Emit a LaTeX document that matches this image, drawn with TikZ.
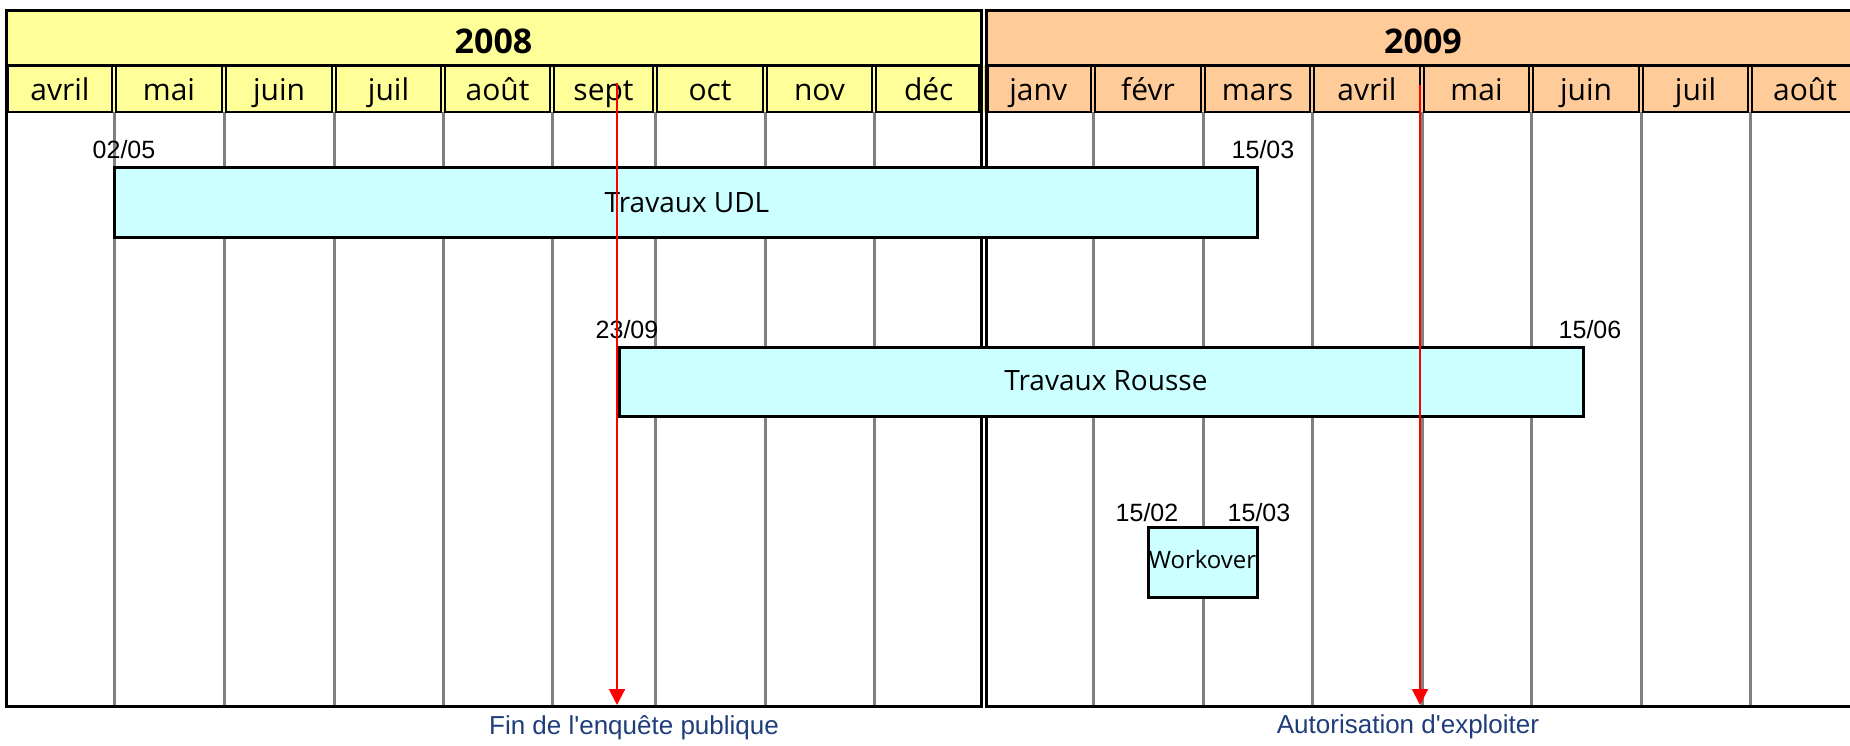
\documentclass[tikz,border=0pt]{standalone}
\usepackage{fontspec}
\setmainfont{Open Sans}
\newfontfamily\datefont[Ligatures=TeXOff]{Liberation Sans}
\usetikzlibrary{arrows.meta,positioning}

\definecolor{annee08}{HTML}{FFFF99}
\definecolor{annee09}{HTML}{FFCC99}
\definecolor{tache}{HTML}{CCFFFF}
\definecolor{grille}{HTML}{808080}
\definecolor{jalon}{HTML}{FF0000}
\definecolor{legende}{HTML}{1F3D7A}

\tikzset{
  yearbox/.style={draw=black, line width=3pt},
  monthcell/.style={draw=black, line width=2.5pt},
  gridline/.style={draw=grille, line width=3pt},
  yearlbl/.style={font=\bfseries\fontsize{34}{40}\selectfont, inner sep=0pt, anchor=base},
  monthlbl/.style={font=\fontsize{30}{36}\selectfont, inner sep=0pt, anchor=base},
  taskbar/.style={draw=black, fill=tache, line width=3pt, inner sep=0pt},
  tasklbl/.style={font=\fontsize{28}{32}\selectfont, inner sep=0pt, anchor=base},
  datelbl/.style={font=\datefont\fontsize{25}{28}\selectfont, inner sep=0pt, anchor=base},
  milestone/.style={draw=jalon, line width=2pt, -{Triangle[width=16pt,length=16pt]}},
  milestonelbl/.style={font=\datefont\fontsize{26}{30}\selectfont, text=legende, inner sep=0pt, anchor=base},
}

\begin{document}
\begin{tikzpicture}[x=1pt,y=-1pt]
\useasboundingbox (0,0) rectangle (1850,745);
\clip (0,0) rectangle (1850,745);

% Year rows
\fill[annee08] (6,10) rectangle (981,65);
\fill[annee09] (986,10) rectangle (1860,65);
\node[yearlbl] (an08) at (493.5,53.5) {2008};
\node[yearlbl] (an09) at (1423,53.5) {2009};

% Month cells, 2008
\foreach \xa/\xb/\m [count=\i] in {6/114/avril, 114/224/mai, 224/334/juin, 334/443/juil, 443/552/août, 552/655/sept, 655/765/oct, 765/874/nov, 874/983.5/déc} {
    \fill[annee08] (\xa,65) rectangle (\xb,112);
    \node[monthlbl] (mois08-\i) at ({(\xa+\xb)/2},100) {\m};
}

% Month cells, 2009
\foreach \xa/\xb/\m [count=\i] in {983.5/1093/janv, 1093/1203/févr, 1203/1312/mars, 1312/1422/avril, 1422/1531/mai, 1531/1641/juin, 1641/1750/juil, 1750/1860/août} {
    \fill[annee09] (\xa,65) rectangle (\xb,112);
    \node[monthlbl] (mois09-\i) at ({(\xa+\xb)/2},100) {\m};
}

% Grey lines at each month in the body
\foreach \x in {114,224,334,443,552,655,765,874,1093,1203,1312,1422,1531,1641,1750}
    \draw[gridline] (\x,112) -- (\x,706);

% Cell borders (double lines between months)
\foreach \xa/\xb in {6/114, 114/224, 224/334, 334/443, 443/552, 552/655, 655/765, 765/874, 874/981}
    \draw[monthcell] (\xa+2,65) rectangle (\xb-2,112);
\foreach \xa/\xb in {986/1093, 1093/1203, 1203/1312, 1312/1422, 1422/1531, 1531/1641, 1641/1750, 1750/1860}
    \draw[monthcell] (\xa+2,65) rectangle (\xb-2,112);

% Year frames
\draw[yearbox] (6,10) rectangle (981,706);
\draw[yearbox] (986,10) rectangle (1860,706);
\draw[yearbox] (6,65) -- (981,65);
\draw[yearbox] (986,65) -- (1860,65);

% Tasks
\node[taskbar, minimum width=1143pt, minimum height=70pt] (udl) at (685.5,202) {};
\node[taskbar, minimum width=964pt, minimum height=69pt] (rousse) at (1101,381.5) {};
\node[taskbar, minimum width=109pt, minimum height=70pt] (wo) at (1202.5,562) {};
\node[tasklbl] (udlLbl) at (687,212) {Travaux UDL};
\node[tasklbl] (rousseLbl) at (1106,390) {Travaux Rousse};
\node[tasklbl, font=\fontsize{24}{28}\selectfont] (woLbl) at (1202.5,568) {Workover};

% Dates
\node[datelbl] (udlDebut) at (124,158) {02/05};
\node[datelbl] (udlFin) at (1263,158) {15/03};
\node[datelbl] (rousseDebut) at (627,338) {23/09};
\node[datelbl] (rousseFin) at (1590,338) {15/06};
\node[datelbl] (woDebut) at (1147,521) {15/02};
\node[datelbl] (woFin) at (1259,521) {15/03};

% Milestones
\coordinate (enqHaut) at (617,83);
\coordinate (enqBas) at (617,705);
\coordinate (autHaut) at (1420,85);
\coordinate (autBas) at (1420,705);
\draw[milestone] (enqHaut) -- (enqBas);
\draw[milestone] (autHaut) -- (autBas);
\node[milestonelbl] (enqLbl) at (634,734) {Fin de l'enquête publique};
\node[milestonelbl] (autLbl) at (1408,733) {Autorisation d'exploiter};
\end{tikzpicture}
\end{document}
